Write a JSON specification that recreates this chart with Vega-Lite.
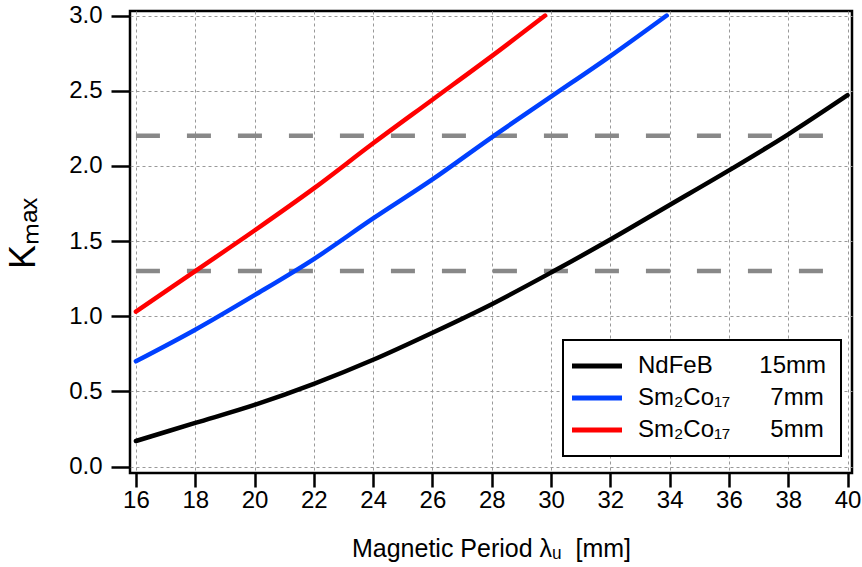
{
  "$schema": "https://vega.github.io/schema/vega-lite/v6.json",
  "width": 722,
  "height": 462,
  "autosize": {"type": "none"},
  "padding": {"left": 130, "top": 11, "right": 10, "bottom": 94},
  "background": "white",
  "config": {
    "view": {"stroke": "black", "strokeWidth": 2.5},
    "font": "Liberation Sans"
  },
  "layer": [
    {
      "data": {"values": [
        {"period": 16, "period_end": 40, "kmax": 1.3},
        {"period": 16, "period_end": 40, "kmax": 2.2}
      ]},
      "mark": {"type": "rule", "color": "#888888", "strokeWidth": 4.5, "strokeDash": [24, 27]},
      "encoding": {
        "x": {"field": "period", "type": "quantitative"},
        "x2": {"field": "period_end"},
        "y": {"field": "kmax", "type": "quantitative"}
      }
    },
    {
      "data": {"values": [
        {"series": "NdFeB\u00a0\u00a0\u00a0\u00a0\u00a0\u00a0\u00a015mm", "period": 16, "kmax": 0.17},
        {"series": "NdFeB\u00a0\u00a0\u00a0\u00a0\u00a0\u00a0\u00a015mm", "period": 18, "kmax": 0.29},
        {"series": "NdFeB\u00a0\u00a0\u00a0\u00a0\u00a0\u00a0\u00a015mm", "period": 20, "kmax": 0.41},
        {"series": "NdFeB\u00a0\u00a0\u00a0\u00a0\u00a0\u00a0\u00a015mm", "period": 22, "kmax": 0.55},
        {"series": "NdFeB\u00a0\u00a0\u00a0\u00a0\u00a0\u00a0\u00a015mm", "period": 24, "kmax": 0.71},
        {"series": "NdFeB\u00a0\u00a0\u00a0\u00a0\u00a0\u00a0\u00a015mm", "period": 26, "kmax": 0.89},
        {"series": "NdFeB\u00a0\u00a0\u00a0\u00a0\u00a0\u00a0\u00a015mm", "period": 28, "kmax": 1.08},
        {"series": "NdFeB\u00a0\u00a0\u00a0\u00a0\u00a0\u00a0\u00a015mm", "period": 30, "kmax": 1.29},
        {"series": "NdFeB\u00a0\u00a0\u00a0\u00a0\u00a0\u00a0\u00a015mm", "period": 32, "kmax": 1.51},
        {"series": "NdFeB\u00a0\u00a0\u00a0\u00a0\u00a0\u00a0\u00a015mm", "period": 34, "kmax": 1.74},
        {"series": "NdFeB\u00a0\u00a0\u00a0\u00a0\u00a0\u00a0\u00a015mm", "period": 36, "kmax": 1.97},
        {"series": "NdFeB\u00a0\u00a0\u00a0\u00a0\u00a0\u00a0\u00a015mm", "period": 38, "kmax": 2.21},
        {"series": "NdFeB\u00a0\u00a0\u00a0\u00a0\u00a0\u00a0\u00a015mm", "period": 40, "kmax": 2.47},
        {"series": "Sm\u2082Co\u2081\u2087\u00a0\u00a0\u00a0\u00a0\u00a0\u00a07mm", "period": 16, "kmax": 0.70},
        {"series": "Sm\u2082Co\u2081\u2087\u00a0\u00a0\u00a0\u00a0\u00a0\u00a07mm", "period": 18, "kmax": 0.91},
        {"series": "Sm\u2082Co\u2081\u2087\u00a0\u00a0\u00a0\u00a0\u00a0\u00a07mm", "period": 20, "kmax": 1.14},
        {"series": "Sm\u2082Co\u2081\u2087\u00a0\u00a0\u00a0\u00a0\u00a0\u00a07mm", "period": 22, "kmax": 1.38},
        {"series": "Sm\u2082Co\u2081\u2087\u00a0\u00a0\u00a0\u00a0\u00a0\u00a07mm", "period": 24, "kmax": 1.65},
        {"series": "Sm\u2082Co\u2081\u2087\u00a0\u00a0\u00a0\u00a0\u00a0\u00a07mm", "period": 26, "kmax": 1.91},
        {"series": "Sm\u2082Co\u2081\u2087\u00a0\u00a0\u00a0\u00a0\u00a0\u00a07mm", "period": 28, "kmax": 2.19},
        {"series": "Sm\u2082Co\u2081\u2087\u00a0\u00a0\u00a0\u00a0\u00a0\u00a07mm", "period": 30, "kmax": 2.46},
        {"series": "Sm\u2082Co\u2081\u2087\u00a0\u00a0\u00a0\u00a0\u00a0\u00a07mm", "period": 32, "kmax": 2.73},
        {"series": "Sm\u2082Co\u2081\u2087\u00a0\u00a0\u00a0\u00a0\u00a0\u00a07mm", "period": 33.9, "kmax": 3.0},
        {"series": "Sm\u2082Co\u2081\u2087\u00a0\u00a0\u00a0\u00a0\u00a0\u00a05mm", "period": 16, "kmax": 1.03},
        {"series": "Sm\u2082Co\u2081\u2087\u00a0\u00a0\u00a0\u00a0\u00a0\u00a05mm", "period": 18, "kmax": 1.30},
        {"series": "Sm\u2082Co\u2081\u2087\u00a0\u00a0\u00a0\u00a0\u00a0\u00a05mm", "period": 20, "kmax": 1.57},
        {"series": "Sm\u2082Co\u2081\u2087\u00a0\u00a0\u00a0\u00a0\u00a0\u00a05mm", "period": 22, "kmax": 1.85},
        {"series": "Sm\u2082Co\u2081\u2087\u00a0\u00a0\u00a0\u00a0\u00a0\u00a05mm", "period": 24, "kmax": 2.15},
        {"series": "Sm\u2082Co\u2081\u2087\u00a0\u00a0\u00a0\u00a0\u00a0\u00a05mm", "period": 26, "kmax": 2.44},
        {"series": "Sm\u2082Co\u2081\u2087\u00a0\u00a0\u00a0\u00a0\u00a0\u00a05mm", "period": 28, "kmax": 2.73},
        {"series": "Sm\u2082Co\u2081\u2087\u00a0\u00a0\u00a0\u00a0\u00a0\u00a05mm", "period": 29.8, "kmax": 3.0}
      ]},
      "mark": {"type": "line", "strokeWidth": 4.5, "interpolate": "monotone", "strokeCap": "round"},
      "encoding": {
        "x": {
          "field": "period", "type": "quantitative",
          "scale": {"domain": [15.8, 40.15], "nice": false, "zero": false},
          "axis": {
            "values": [16,17,18,19,20,21,22,23,24,25,26,27,28,29,30,31,32,33,34,35,36,37,38,39,40],
            "labelExpr": "datum.value % 2 === 0 ? datum.label : ''",
            "labelOverlap": false,
            "labelFlush": false,
            "domain": false,
            "tickColor": "black",
            "tickWidth": 2.5,
            "tickSize": {"condition": {"test": "datum.value % 2 === 0", "value": 14}, "value": 8},
            "grid": true,
            "gridColor": "#999999",
            "gridDash": [3, 3],
            "gridWidth": 1,
            "gridOpacity": {"condition": {"test": "datum.value % 2 === 0", "value": 1}, "value": 0},
            "labelFontSize": 24,
            "labelColor": "black",
            "labelPadding": 1,
            "title": "Magnetic Period \u03bb\u1d64\u00a0 [mm]",
            "titleFontSize": 25,
            "titleFontWeight": "normal",
            "titleColor": "black",
            "titlePadding": 24
          }
        },
        "y": {
          "field": "kmax", "type": "quantitative",
          "scale": {"domain": [-0.043, 3.03], "nice": false, "zero": false},
          "axis": {
            "values": [0, 0.5, 1, 1.5, 2, 2.5, 3],
            "format": ".1f",
            "labelFlush": false,
            "labelOverlap": false,
            "domain": false,
            "tickColor": "black",
            "tickWidth": 2.5,
            "tickSize": 19,
            "grid": true,
            "gridColor": "#999999",
            "gridDash": [3, 3],
            "gridWidth": 1,
            "labelFontSize": 24,
            "labelColor": "black",
            "labelPadding": 9,
            "title": "K\u2098\u2090\u2093",
            "titleFontSize": 36,
            "titleFontWeight": "normal",
            "titleColor": "black",
            "titlePadding": 26,
            "titleY": 222
          }
        },
        "color": {
          "field": "series", "type": "nominal",
          "scale": {
            "domain": ["NdFeB\u00a0\u00a0\u00a0\u00a0\u00a0\u00a0\u00a015mm", "Sm\u2082Co\u2081\u2087\u00a0\u00a0\u00a0\u00a0\u00a0\u00a07mm", "Sm\u2082Co\u2081\u2087\u00a0\u00a0\u00a0\u00a0\u00a0\u00a05mm"],
            "range": ["#000000", "#0040ff", "#ff0000"]
          },
          "legend": {
            "title": null,
            "orient": "none",
            "legendX": 433,
            "legendY": 329,
            "strokeColor": "black",
            "fillColor": "white",
            "padding": 14,
            "symbolType": "M-3.4,0H6.6",
            "symbolStrokeWidth": 5,
            "symbolSize": 100,
            "labelFontSize": 24,
            "labelColor": "black",
            "labelLimit": 400,
            "labelOffset": 37,
            "rowPadding": 8,
            "encode": {"legend": {"update": {"strokeWidth": {"value": 2}}}}
          }
        }
      }
    }
  ]
}
